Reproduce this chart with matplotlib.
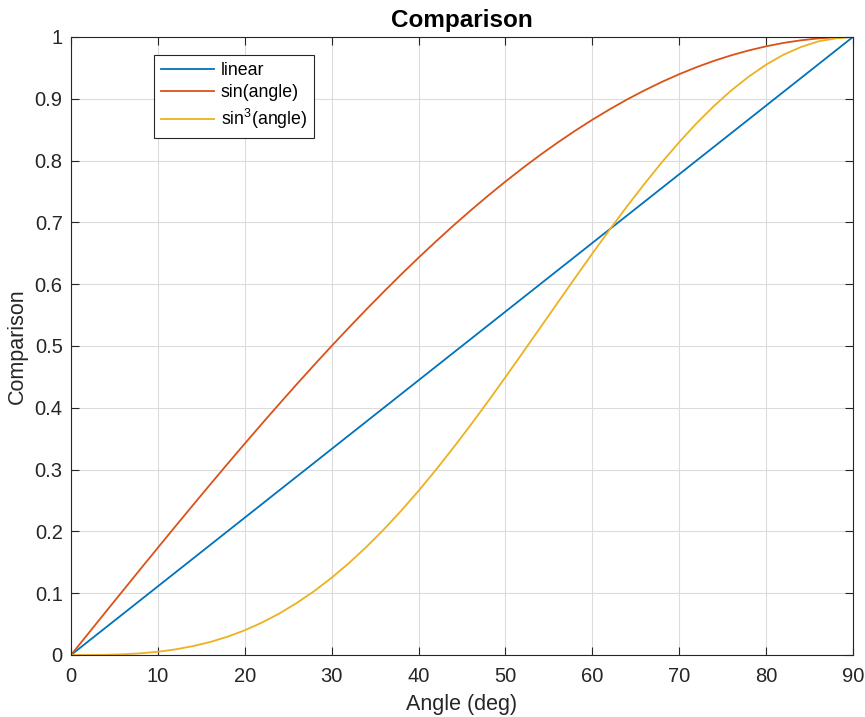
import matplotlib

matplotlib.use("Agg")
import matplotlib.pyplot as plt

# values (angle in degrees)
angles = [0, 2, 4, 6, 8, 10, 12, 14, 16, 18, 20, 22, 24, 26, 28, 30,
          32, 34, 36, 38, 40, 42, 44, 46, 48, 50, 52, 54, 56, 58, 60,
          62, 64, 66, 68, 70, 72, 74, 76, 78, 80, 82, 84, 86, 88, 90]
linear_x = [0, 90]
linear_y = [0, 1]
sin_vals = [0.0, 0.0349, 0.0698, 0.1045, 0.1392, 0.1736, 0.2079, 0.2419,
            0.2756, 0.3090, 0.3420, 0.3746, 0.4067, 0.4384, 0.4695, 0.5000,
            0.5299, 0.5592, 0.5878, 0.6157, 0.6428, 0.6691, 0.6947, 0.7193,
            0.7431, 0.7660, 0.7880, 0.8090, 0.8290, 0.8480, 0.8660, 0.8829,
            0.8988, 0.9135, 0.9272, 0.9397, 0.9511, 0.9613, 0.9703, 0.9781,
            0.9848, 0.9903, 0.9945, 0.9976, 0.9994, 1.0]
sin3_vals = [0.0, 0.0000, 0.0003, 0.0011, 0.0027, 0.0052, 0.0090, 0.0142,
             0.0209, 0.0295, 0.0400, 0.0526, 0.0673, 0.0843, 0.1035, 0.1250,
             0.1488, 0.1749, 0.2031, 0.2334, 0.2656, 0.2996, 0.3353, 0.3722,
             0.4103, 0.4495, 0.4893, 0.5295, 0.5697, 0.6098, 0.6495, 0.6882,
             0.7261, 0.7623, 0.7971, 0.8298, 0.8603, 0.8883, 0.9135, 0.9357,
             0.9551, 0.9712, 0.9836, 0.9928, 0.9976, 1.0]
labels = ["linear", "sin(angle)", r"sin$^3$(angle)"]
x_ticks = list(range(0, 91, 10))
y_ticks = [0, 0.1, 0.2, 0.3, 0.4, 0.5, 0.6, 0.7, 0.8, 0.9, 1]
y_ticklabels = ["0", "0.1", "0.2", "0.3", "0.4", "0.5", "0.6", "0.7", "0.8", "0.9", "1"]

plt.rcParams["font.family"] = ["Liberation Sans", "DejaVu Sans"]
plt.rcParams["mathtext.fontset"] = "custom"
plt.rcParams["mathtext.rm"] = "Liberation Sans"

fig = plt.figure(figsize=(8.65, 7.17), dpi=100)
ax = fig.add_axes([0.0821, 0.0865, 0.904, 0.862])

ax.plot(linear_x, linear_y, color="#0072BD", lw=1.3, label=labels[0])
ax.plot(angles, sin_vals, color="#D95319", lw=1.3, label=labels[1])
ax.plot(angles, sin3_vals, color="#EDB120", lw=1.3, label=labels[2])

ax.set_xlim(0, 90)
ax.set_ylim(0, 1)
ax.set_xticks(x_ticks)
ax.set_yticks(y_ticks, labels=y_ticklabels)
ax.tick_params(direction="in", length=6, width=0.8, labelsize=14.5, colors="#262626",
               top=True, right=True)
ax.tick_params(axis="x", pad=8.5)
ax.tick_params(axis="y", pad=6)
ax.grid(True, color="#dcdcdc", lw=0.8)
ax.set_axisbelow(True)
for spine in ax.spines.values():
    spine.set_color("#262626")
    spine.set_linewidth(0.8)

ax.set_xlabel("Angle (deg)", fontsize=15.5, color="#262626", labelpad=6)
ax.set_ylabel("Comparison", fontsize=15.5, color="#262626", labelpad=5)
ax.set_title("Comparison", fontsize=17.5, fontweight="bold", pad=7)

leg = ax.legend(loc="upper left", bbox_to_anchor=(0.106, 0.971), borderaxespad=0,
                fontsize=12.8, fancybox=False, framealpha=1, edgecolor="#262626",
                handlelength=3.0, handletextpad=0.35, borderpad=0.4, labelspacing=0.3)
leg.get_frame().set_linewidth(0.8)

fig.savefig("out.png", dpi=100)
